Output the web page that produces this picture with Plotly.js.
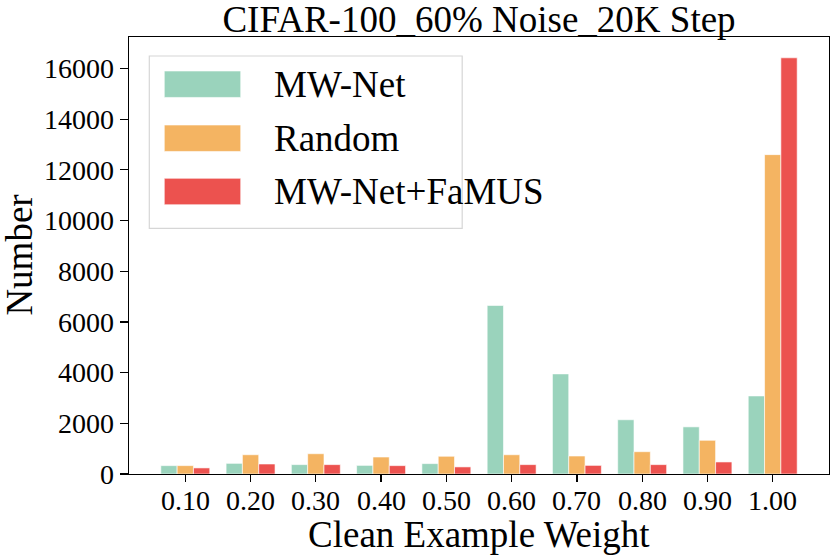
<!DOCTYPE html>
<html>
<head>
<meta charset="utf-8">
<script src="https://cdn.plot.ly/plotly-3.0.1.min.js"></script>
<style>html,body{margin:0;padding:0;background:#fff;}#chart{width:830px;height:557px;}</style>
</head>
<body>
<div id="chart"></div>
<script>
// ---- data ----
const categories = ["0.10","0.20","0.30","0.40","0.50","0.60","0.70","0.80","0.90","1.00"];
const seriesNames = ["MW-Net", "Random", "MW-Net+FaMUS"];
const mwnet  = [330, 420, 370, 340, 410, 6650, 3950, 2140, 1860, 3080];
const random = [330, 760, 800, 670, 700, 760, 710, 880, 1330, 12600];
const famus  = [240, 395, 370, 330, 280, 370, 340, 370, 475, 16420];
const yTicks = [0, 2000, 4000, 6000, 8000, 10000, 12000, 14000, 16000];
const xTitle = "Clean Example Weight";
const yTitle = "Number";

const colors = ["#9AD3BC", "#F4B462", "#EC524F"];
const seriesValues = [mwnet, random, famus];
const font = "'Times New Roman', 'Liberation Serif', 'DejaVu Serif', serif";

const traces = seriesValues.map((vals, i) => ({
  type: "bar",
  name: seriesNames[i],
  x: categories,
  y: vals,
  marker: {color: colors[i], line: {color: "rgba(255,255,255,0.6)", width: 1}},
  showlegend: false,
  hoverinfo: "x+y+name"
}));

const ymax = Math.max(...mwnet, ...random, ...famus) * 1.05;

// custom legend (large patches like the original)
const shapes = [{
  type: "rect", xref: "paper", yref: "paper",
  x0: 0.029, x1: 0.476, y0: 0.562, y1: 0.9565,
  line: {color: "#d6d6d6", width: 1.2}, fillcolor: "rgba(255,255,255,0.8)", layer: "above"
}];
const annotations = [];
const rowTop = [0.9222, 0.7986, 0.6767];
const rowH = 0.0605;
seriesNames.forEach((nm, i) => {
  shapes.push({
    type: "rect", xref: "paper", yref: "paper",
    x0: 0.0504, x1: 0.1596, y0: rowTop[i] - rowH, y1: rowTop[i],
    line: {color: "rgba(255,255,255,0.6)", width: 1}, fillcolor: colors[i], layer: "above"
  });
  annotations.push({
    xref: "paper", yref: "paper", x: 0.2039, y: rowTop[i] - rowH / 2,
    xanchor: "left", yanchor: "middle", showarrow: false,
    text: nm, font: {family: font, size: 37, color: "#000"}
  });
});

// x tick labels placed on the category axis (category index = position)
categories.forEach((c, i) => {
  annotations.push({
    xref: "x", yref: "paper", x: i, y: -0.021,
    xanchor: "center", yanchor: "top", showarrow: false,
    text: c, font: {family: font, size: 28, color: "#000"}
  });
});

// axis titles as annotations for precise placement
annotations.push({
  xref: "paper", yref: "paper", x: 0.5, y: -0.139,
  xanchor: "center", yanchor: "middle", showarrow: false,
  text: xTitle, font: {family: font, size: 37, color: "#000"}
});
annotations.push({
  xref: "paper", yref: "paper", x: -0.157, y: 0.5, textangle: -90,
  xanchor: "center", yanchor: "middle", showarrow: false,
  text: yTitle, font: {family: font, size: 37, color: "#000"}
});

const layout = {
  width: 830, height: 557,
  margin: {l: 129, r: 1, t: 37, b: 83},
  paper_bgcolor: "#fff", plot_bgcolor: "#fff",
  font: {family: font, color: "#000"},
  title: {
    text: "CIFAR-100_60% Noise_20K Step",
    font: {family: font, size: 37, color: "#000"},
    x: 0.5, xref: "paper", xanchor: "center",
    y: 0.966, yref: "container", yanchor: "middle"
  },
  barmode: "group", bargap: 0.25, bargroupgap: 0,
  xaxis: {
    type: "category",
    range: [-0.8625, 9.8625],
    showline: true, linecolor: "#000", linewidth: 1.3, mirror: true,
    ticks: "outside", ticklen: 7, tickwidth: 1.3, tickcolor: "#000",
    showticklabels: false,
    showgrid: false, zeroline: false
  },
  yaxis: {
    range: [0, ymax],
    tickvals: yTicks,
    ticktext: yTicks.map(String),
    showline: true, linecolor: "#000", linewidth: 1.3, mirror: true,
    ticks: "outside", ticklen: 8, tickwidth: 1.3, tickcolor: "#000",
    tickfont: {family: font, size: 28, color: "#000"},
    showgrid: false, zeroline: false
  },
  shapes: shapes,
  annotations: annotations
};

Plotly.newPlot("chart", traces, layout, {displayModeBar: false, staticPlot: true});
</script>
</body>
</html>
